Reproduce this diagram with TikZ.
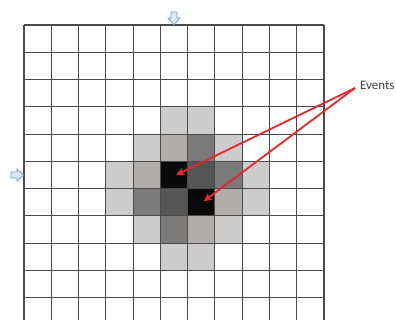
\documentclass[tikz,border=0pt]{standalone}
\usepackage{fontspec}
\setmainfont{Carlito}
\usetikzlibrary{arrows.meta,positioning}
\definecolor{GridLine}{HTML}{4A4A4A}
\definecolor{CellLight}{HTML}{CCCCCC}
\definecolor{CellMid}{HTML}{B0ADAB}
\definecolor{CellDark}{HTML}{7A7A7A}
\definecolor{CellDeep}{HTML}{555555}
\definecolor{CellEvent}{HTML}{0A0A0A}
\definecolor{EventRed}{HTML}{E8262C}
\definecolor{LabelGray}{HTML}{404040}
\definecolor{InBlue}{HTML}{6F9BD0}
\definecolor{InFill}{HTML}{DCE9F6}
\tikzset{
  gridline/.style={draw=GridLine, line width=1.1bp},
  inarrow/.style={draw=InBlue, fill=InFill, line width=0.8bp, line join=miter},
  eventarrow/.style={-{Stealth[length=8bp, width=7bp, inset=1bp]}, draw=EventRed, line width=1.8bp},
  eventlabel/.style={font=\fontsize{13}{15}\selectfont, text=LabelGray, inner sep=0pt}
}

\begin{document}
\begin{tikzpicture}[x=1bp, y=-1bp]
  \useasboundingbox (0,0) rectangle (396,320);
  \clip (0,0) rectangle (396,320);
  \fill[white] (0,0) rectangle (396,320);

  % cells spread round the two events
  \begin{scope}[shift={(24,25)}, x=27.27bp, y=-27.27bp]
    \foreach \c/\r/\tone in {5/3/CellLight, 6/3/CellLight,
        4/4/CellLight, 5/4/CellMid, 6/4/CellDark, 7/4/CellLight,
        3/5/CellLight, 4/5/CellMid, 5/5/CellEvent, 6/5/CellDeep, 7/5/CellDark, 8/5/CellLight,
        3/6/CellLight, 4/6/CellDark, 5/6/CellDeep, 6/6/CellEvent, 7/6/CellMid, 8/6/CellLight,
        4/7/CellLight, 5/7/CellDark, 6/7/CellMid, 7/7/CellLight,
        5/8/CellLight, 6/8/CellLight}
      \fill[\tone] (\c,\r) rectangle ++(1,1);
    \foreach \i in {0,...,11}
      \draw[gridline] (\i,0) -- (\i,11.5);
    \foreach \j in {0,...,11}
      \draw[gridline] (0,\j) -- (11,\j);
    \coordinate (evA) at (5.57,5.5);
    \coordinate (evB) at (6.58,6.47);
  \end{scope}

  % input markers
  \draw[inarrow] (171,12) -- (177,12) -- (177,18) -- (180,18) -- (174,24.5)
    -- (168,18) -- (171,18) -- cycle;
  \draw[inarrow] (11,172) -- (17,172) -- (17,169) -- (23.5,175) -- (17,181)
    -- (17,178) -- (11,178) -- cycle;

  \node[eventlabel, anchor=base west] (events) at (360,89) {Events};
  \coordinate (fork) at ([xshift=-5bp, yshift=1bp]events.base west);
  \draw[eventarrow] (fork) -- (evA);
  \draw[eventarrow] (fork) -- (evB);
\end{tikzpicture}
\end{document}
